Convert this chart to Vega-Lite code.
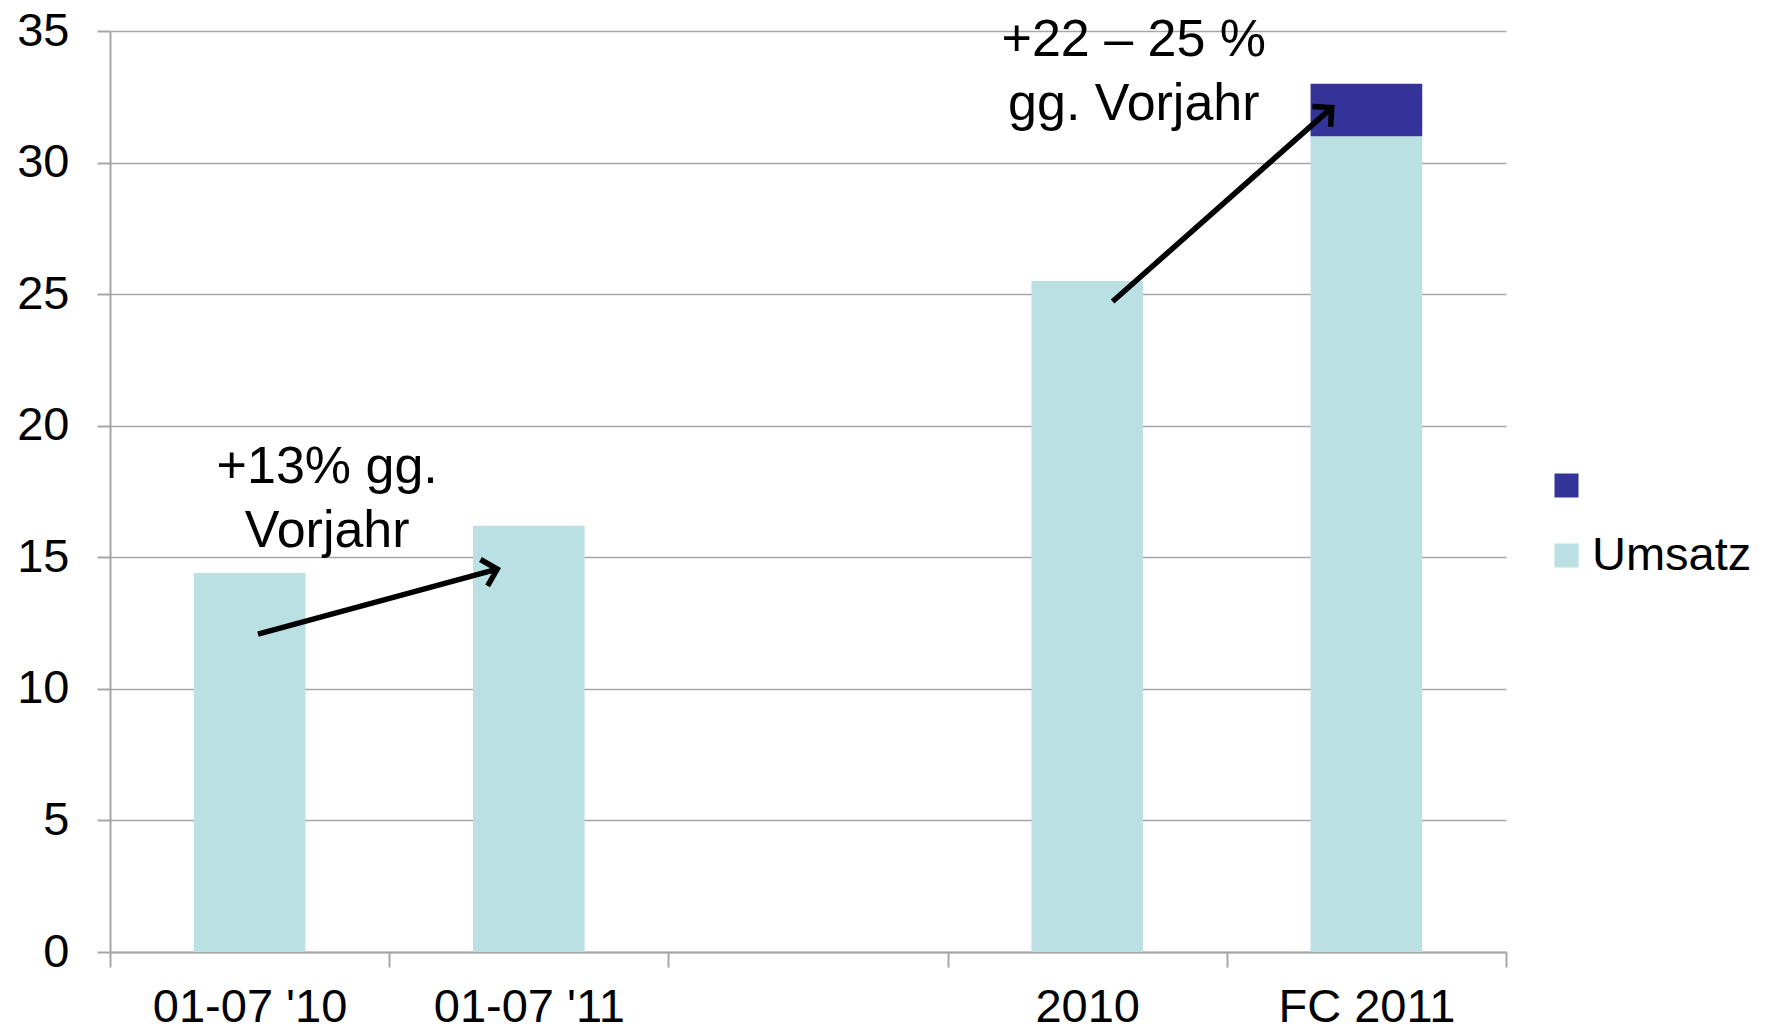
{
  "$schema": "https://vega.github.io/schema/vega-lite/v6.json",
  "width": 1396,
  "height": 921,
  "autosize": {"type": "none"},
  "padding": {"left": 110, "top": 31, "right": 261, "bottom": 80},
  "background": "white",
  "config": {
    "view": {"stroke": null},
    "font": "Liberation Sans",
    "axis": {
      "labelFont": "Liberation Sans",
      "labelFontSize": 47,
      "labelColor": "black",
      "labelLimit": 500,
      "domainColor": "#A6A6A6",
      "domainWidth": 2,
      "tickColor": "#A6A6A6",
      "tickWidth": 2,
      "gridColor": "#A6A6A6",
      "gridWidth": 1.5,
      "title": null
    },
    "legend": {
      "labelFont": "Liberation Sans",
      "labelFontSize": 47,
      "labelColor": "black",
      "labelLimit": 500
    }
  },
  "datasets": {
    "bars": [
      {"period": "01-07 '10", "series": "Umsatz", "value": 14.4},
      {"period": "01-07 '11", "series": "Umsatz", "value": 16.2},
      {"period": "2010", "series": "Umsatz", "value": 25.5},
      {"period": "FC 2011", "series": "Umsatz", "value": 31.0},
      {"period": "FC 2011", "series": " ", "value": 2.0}
    ],
    "arrows": [
      {"arrow": "a", "part": "start", "pos": 0.53, "value": 12.08},
      {"arrow": "a", "part": "end", "pos": 1.387, "value": 14.55},
      {"arrow": "b", "part": "start", "pos": 3.591, "value": 24.72},
      {"arrow": "b", "part": "end", "pos": 4.376, "value": 32.09}
    ],
    "notes": [
      {"pos": 0.778, "value": 18.45, "text": ["+13% gg.", "Vorjahr"]},
      {"pos": 3.667, "value": 34.65, "text": ["+22 – 25 %", "gg. Vorjahr"]}
    ]
  },
  "layer": [
    {
      "data": {"name": "bars"},
      "mark": {"type": "bar", "width": {"band": 0.4}},
      "encoding": {
        "x": {
          "field": "period",
          "type": "nominal",
          "scale": {
            "domain": ["01-07 '10", "01-07 '11", "  ", "2010", "FC 2011"],
            "paddingInner": 0,
            "paddingOuter": 0
          },
          "axis": {
            "labelAngle": 0,
            "tickBand": "extent",
            "tickSize": 15,
            "labelPadding": 17,
            "grid": false
          }
        },
        "y": {
          "field": "value",
          "type": "quantitative",
          "stack": "zero",
          "scale": {"domain": [0, 35], "nice": false},
          "axis": {
            "values": [0, 5, 10, 15, 20, 25, 30, 35],
            "tickSize": 13,
            "labelPadding": 28,
            "grid": true
          }
        },
        "color": {
          "field": "series",
          "type": "nominal",
          "scale": {"domain": [" ", "Umsatz"], "range": ["#333399", "#BAE0E3"]},
          "legend": {
            "title": null,
            "orient": "none",
            "legendX": 1433,
            "legendY": 431,
            "padding": 0,
            "symbolType": "square",
            "symbolSize": 576,
            "symbolStrokeWidth": 0,
            "rowPadding": 22,
            "labelOffset": 2
          }
        },
        "order": {"field": "series", "sort": "descending"}
      }
    },
    {
      "data": {"name": "arrows"},
      "mark": {"type": "line", "color": "black", "strokeWidth": 5.5},
      "encoding": {
        "x": {"field": "pos", "type": "quantitative", "scale": {"domain": [0, 5], "nice": false, "zero": false}, "axis": null},
        "y": {"field": "value", "type": "quantitative", "scale": {"domain": [0, 35], "nice": false}},
        "detail": {"field": "arrow"}
      }
    },
    {
      "data": {"name": "arrows"},
      "transform": [{"filter": "datum.arrow === 'a' && datum.part === 'end'"}],
      "mark": {"type": "point", "shape": "M -1 -1 L 0 0 L -1 1", "filled": false, "stroke": "black", "strokeWidth": 5.5, "size": 750, "angle": -15.2, "opacity": 1},
      "encoding": {
        "x": {"field": "pos", "type": "quantitative", "scale": {"domain": [0, 5], "nice": false, "zero": false}, "axis": null},
        "y": {"field": "value", "type": "quantitative", "scale": {"domain": [0, 35], "nice": false}}
      }
    },
    {
      "data": {"name": "arrows"},
      "transform": [{"filter": "datum.arrow === 'b' && datum.part === 'end'"}],
      "mark": {"type": "point", "shape": "M -1 -1 L 0 0 L -1 1", "filled": false, "stroke": "black", "strokeWidth": 5.5, "size": 750, "angle": -41.5, "opacity": 1},
      "encoding": {
        "x": {"field": "pos", "type": "quantitative", "scale": {"domain": [0, 5], "nice": false, "zero": false}, "axis": null},
        "y": {"field": "value", "type": "quantitative", "scale": {"domain": [0, 35], "nice": false}}
      }
    },
    {
      "data": {"name": "notes"},
      "mark": {"type": "text", "font": "Liberation Sans", "fontSize": 52, "lineHeight": 64, "align": "center", "baseline": "middle", "color": "black"},
      "encoding": {
        "x": {"field": "pos", "type": "quantitative", "scale": {"domain": [0, 5], "nice": false, "zero": false}, "axis": null},
        "y": {"field": "value", "type": "quantitative", "scale": {"domain": [0, 35], "nice": false}},
        "text": {"field": "text"}
      }
    }
  ],
  "resolve": {"scale": {"x": "independent"}}
}
